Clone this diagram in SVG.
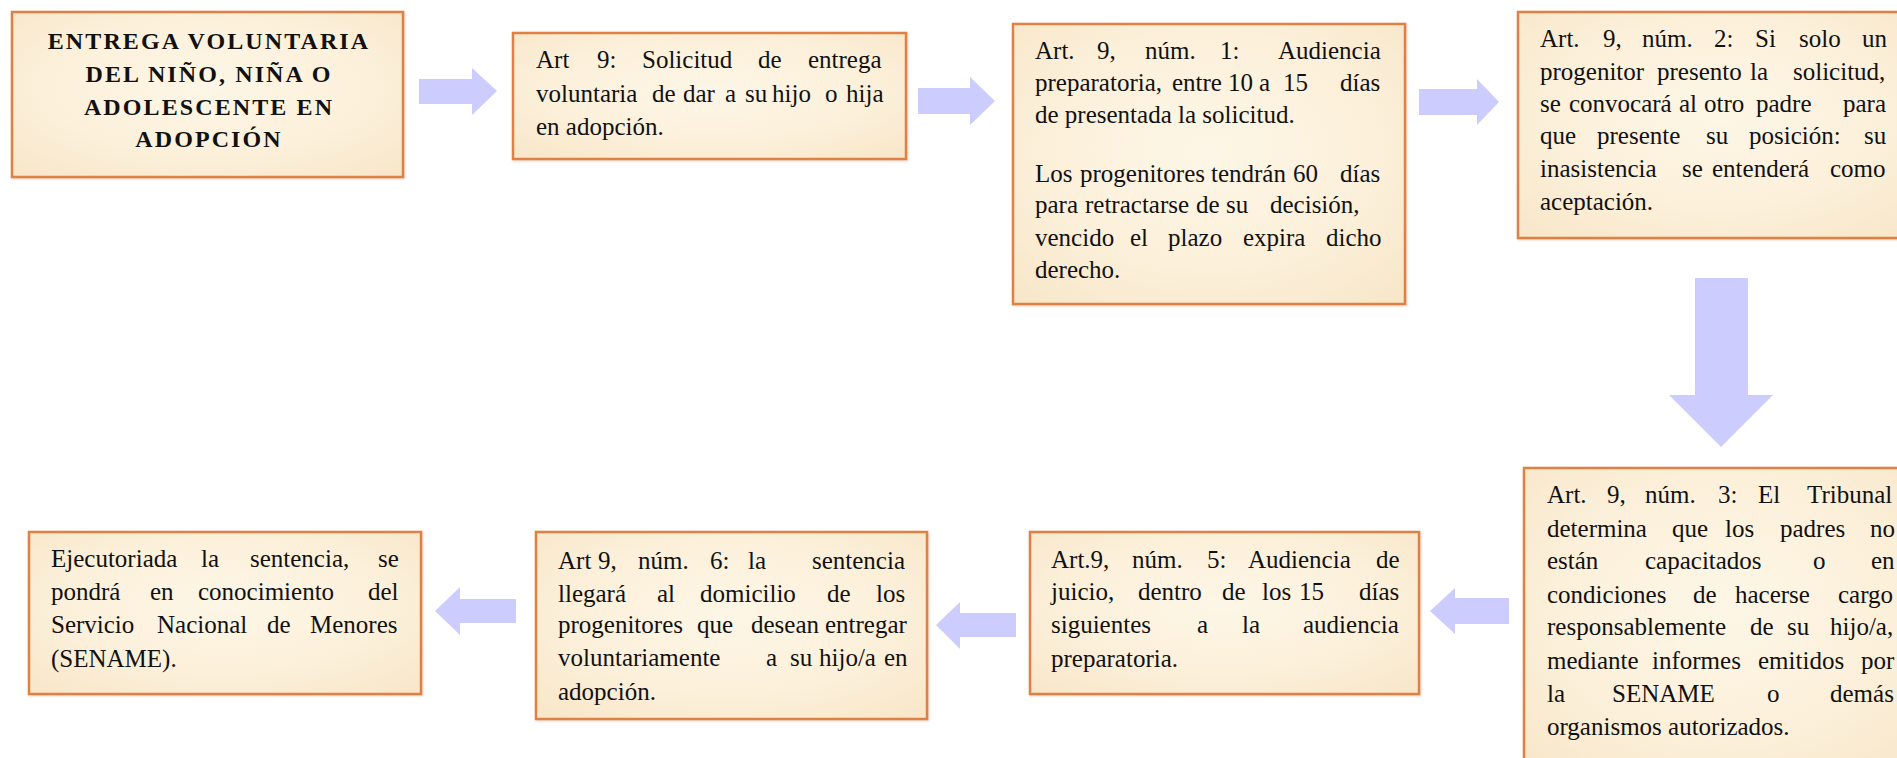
<svg xmlns="http://www.w3.org/2000/svg" width="1897" height="758" viewBox="0 0 1897 758">
<defs>
<radialGradient id="parch" cx="50%" cy="45%" r="70%">
<stop offset="0" stop-color="#FDF6E6"/>
<stop offset="0.6" stop-color="#FCF0DA"/>
<stop offset="1" stop-color="#F8E7CA"/>
</radialGradient>
<filter id="sh" x="-5%" y="-5%" width="110%" height="110%">
<feGaussianBlur in="SourceAlpha" stdDeviation="1.2"/>
<feOffset dx="1" dy="1" result="b"/>
<feFlood flood-color="#b07040" flood-opacity="0.3"/>
<feComposite in2="b" operator="in"/>
<feMerge><feMergeNode/><feMergeNode in="SourceGraphic"/></feMerge>
</filter>
</defs>
<style>
.box{fill:url(#parch);stroke:#E08042;stroke-width:2.5;filter:url(#sh)}
.t{font-family:"Liberation Serif","Times New Roman",serif;font-size:25px;fill:#111}
.title{font-family:"Liberation Serif","Times New Roman",serif;font-size:24px;font-weight:bold;fill:#111;letter-spacing:2.1px;text-anchor:middle}
.arr{fill:#CCCCFF}
</style>
<rect width="1897" height="758" fill="#FFFFFF"/>

<g id="connectors">
<polygon class="arr" points="419,79 472,79 472,68 497,91 472,115 472,104 419,104"/>
<polygon class="arr" points="918,88 970,88 970,77 995,101 970,125 970,114 918,114"/>
<polygon class="arr" points="1419,89 1477,89 1477,79 1499,102 1477,125 1477,115 1419,115"/>
<polygon class="arr" points="1695,278 1748,278 1748,395 1773,395 1721,447 1669,395 1695,395"/>
<polygon class="arr" points="1509,598 1455,598 1455,588 1430,611 1455,634 1455,624 1509,624"/>
<polygon class="arr" points="1016,613 960,613 960,602 936,625 960,649 960,637 1016,637"/>
<polygon class="arr" points="516,599 460,599 460,587 435,611 460,635 460,623 516,623"/>
</g>

<g id="n1">
<rect class="box" x="12" y="12" width="391" height="165"/>
<text class="title" x="209" y="49">ENTREGA VOLUNTARIA</text>
<text class="title" x="209" y="82">DEL NIÑO, NIÑA O</text>
<text class="title" x="209" y="115">ADOLESCENTE EN</text>
<text class="title" x="209" y="147">ADOPCIÓN</text>
</g>

<g id="n2">
<rect class="box" x="513" y="33" width="393" height="126"/>
<text class="t" y="68"><tspan x="536">Art</tspan><tspan x="597">9:</tspan><tspan x="642">Solicitud</tspan><tspan x="758">de</tspan><tspan x="808">entrega</tspan></text>
<text class="t" y="102"><tspan x="536">voluntaria</tspan><tspan x="652">de</tspan><tspan x="683">dar</tspan><tspan x="725">a</tspan><tspan x="745">su</tspan><tspan x="772">hijo</tspan><tspan x="825">o</tspan><tspan x="846">hija</tspan></text>
<text class="t" x="536" y="135">en adopción.</text>
</g>

<g id="n3">
<rect class="box" x="1013" y="24" width="392" height="280"/>
<text class="t" y="59"><tspan x="1035">Art.</tspan><tspan x="1097">9,</tspan><tspan x="1145">núm.</tspan><tspan x="1220">1:</tspan><tspan x="1278">Audiencia</tspan></text>
<text class="t" y="91"><tspan x="1035">preparatoria,</tspan><tspan x="1172">entre</tspan><tspan x="1228">10</tspan><tspan x="1259">a</tspan><tspan x="1283">15</tspan><tspan x="1340">días</tspan></text>
<text class="t" x="1035" y="123">de presentada la solicitud.</text>
<text class="t" y="182"><tspan x="1035">Los</tspan><tspan x="1080">progenitores</tspan><tspan x="1211">tendrán</tspan><tspan x="1293">60</tspan><tspan x="1340">días</tspan></text>
<text class="t" y="213"><tspan x="1035">para</tspan><tspan x="1085">retractarse</tspan><tspan x="1196">de</tspan><tspan x="1226">su</tspan><tspan x="1270">decisión,</tspan></text>
<text class="t" y="246"><tspan x="1035">vencido</tspan><tspan x="1130">el</tspan><tspan x="1168">plazo</tspan><tspan x="1243">expira</tspan><tspan x="1326">dicho</tspan></text>
<text class="t" x="1035" y="278">derecho.</text>
</g>

<g id="n4">
<rect class="box" x="1518" y="12" width="400" height="226"/>
<text class="t" y="47"><tspan x="1540">Art.</tspan><tspan x="1603">9,</tspan><tspan x="1642">núm.</tspan><tspan x="1714">2:</tspan><tspan x="1755">Si</tspan><tspan x="1799">solo</tspan><tspan x="1862">un</tspan></text>
<text class="t" y="80"><tspan x="1540">progenitor</tspan><tspan x="1657">presento</tspan><tspan x="1750">la</tspan><tspan x="1793">solicitud,</tspan></text>
<text class="t" y="112"><tspan x="1540">se</tspan><tspan x="1569">convocará</tspan><tspan x="1679">al</tspan><tspan x="1704">otro</tspan><tspan x="1756">padre</tspan><tspan x="1843">para</tspan></text>
<text class="t" y="144"><tspan x="1540">que</tspan><tspan x="1597">presente</tspan><tspan x="1706">su</tspan><tspan x="1749">posición:</tspan><tspan x="1864">su</tspan></text>
<text class="t" y="177"><tspan x="1540">inasistencia</tspan><tspan x="1682">se</tspan><tspan x="1712">entenderá</tspan><tspan x="1830">como</tspan></text>
<text class="t" x="1540" y="210">aceptación.</text>
</g>

<g id="n5">
<rect class="box" x="1524" y="468" width="400" height="310"/>
<text class="t" y="503"><tspan x="1547">Art.</tspan><tspan x="1607">9,</tspan><tspan x="1645">núm.</tspan><tspan x="1718">3:</tspan><tspan x="1758">El</tspan><tspan x="1807">Tribunal</tspan></text>
<text class="t" y="537"><tspan x="1547">determina</tspan><tspan x="1672">que</tspan><tspan x="1725">los</tspan><tspan x="1780">padres</tspan><tspan x="1870">no</tspan></text>
<text class="t" y="569"><tspan x="1547">están</tspan><tspan x="1645">capacitados</tspan><tspan x="1813">o</tspan><tspan x="1871">en</tspan></text>
<text class="t" y="603"><tspan x="1547">condiciones</tspan><tspan x="1693">de</tspan><tspan x="1735">hacerse</tspan><tspan x="1838">cargo</tspan></text>
<text class="t" y="635"><tspan x="1547">responsablemente</tspan><tspan x="1750">de</tspan><tspan x="1787">su</tspan><tspan x="1830">hijo/a,</tspan></text>
<text class="t" y="669"><tspan x="1547">mediante</tspan><tspan x="1652">informes</tspan><tspan x="1758">emitidos</tspan><tspan x="1861">por</tspan></text>
<text class="t" y="702"><tspan x="1547">la</tspan><tspan x="1612">SENAME</tspan><tspan x="1767">o</tspan><tspan x="1830">demás</tspan></text>
<text class="t" x="1547" y="735">organismos autorizados.</text>
</g>

<g id="n6">
<rect class="box" x="1030" y="532" width="389" height="162"/>
<text class="t" y="568"><tspan x="1051">Art.9,</tspan><tspan x="1132">núm.</tspan><tspan x="1207">5:</tspan><tspan x="1248">Audiencia</tspan><tspan x="1376">de</tspan></text>
<text class="t" y="600"><tspan x="1051">juicio,</tspan><tspan x="1138">dentro</tspan><tspan x="1222">de</tspan><tspan x="1262">los</tspan><tspan x="1299">15</tspan><tspan x="1359">días</tspan></text>
<text class="t" y="633"><tspan x="1051">siguientes</tspan><tspan x="1197">a</tspan><tspan x="1242">la</tspan><tspan x="1303">audiencia</tspan></text>
<text class="t" x="1051" y="667">preparatoria.</text>
</g>

<g id="n7">
<rect class="box" x="536" y="532" width="391" height="187"/>
<text class="t" y="569"><tspan x="558">Art</tspan><tspan x="598">9,</tspan><tspan x="638">núm.</tspan><tspan x="710">6:</tspan><tspan x="748">la</tspan><tspan x="812">sentencia</tspan></text>
<text class="t" y="602"><tspan x="558">llegará</tspan><tspan x="657">al</tspan><tspan x="700">domicilio</tspan><tspan x="827">de</tspan><tspan x="876">los</tspan></text>
<text class="t" y="633"><tspan x="558">progenitores</tspan><tspan x="697">que</tspan><tspan x="751">desean</tspan><tspan x="825">entregar</tspan></text>
<text class="t" y="666"><tspan x="558">voluntariamente</tspan><tspan x="766">a</tspan><tspan x="790">su</tspan><tspan x="819">hijo/a</tspan><tspan x="884">en</tspan></text>
<text class="t" x="558" y="700">adopción.</text>
</g>

<g id="n8">
<rect class="box" x="29" y="532" width="392" height="162"/>
<text class="t" y="567"><tspan x="51">Ejecutoriada</tspan><tspan x="201">la</tspan><tspan x="250">sentencia,</tspan><tspan x="378">se</tspan></text>
<text class="t" y="600"><tspan x="51">pondrá</tspan><tspan x="150">en</tspan><tspan x="198">conocimiento</tspan><tspan x="368">del</tspan></text>
<text class="t" y="633"><tspan x="51">Servicio</tspan><tspan x="157">Nacional</tspan><tspan x="267">de</tspan><tspan x="310">Menores</tspan></text>
<text class="t" x="51" y="667">(SENAME).</text>
</g>
</svg>
